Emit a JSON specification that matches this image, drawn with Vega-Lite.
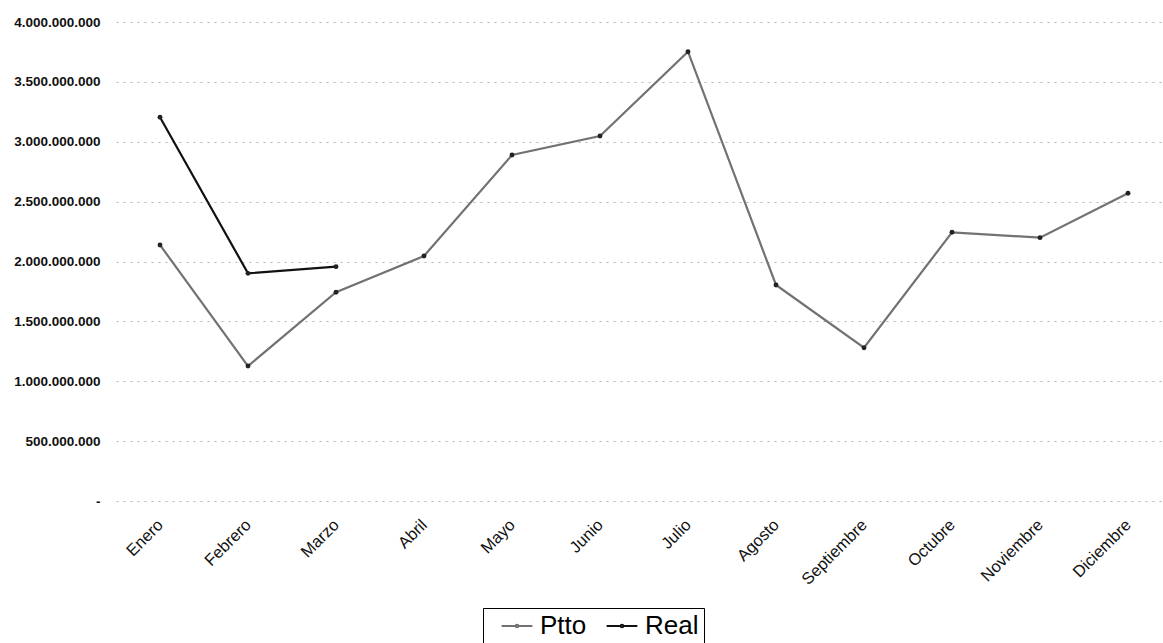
{
  "$schema": "https://vega.github.io/schema/vega-lite/v6.json",
  "width": 1056,
  "height": 479,
  "autosize": "none",
  "padding": {"left": 116, "top": 22, "right": 0, "bottom": 142},
  "background": "white",
  "config": {
    "view": {"stroke": null},
    "font": "Liberation Sans",
    "axis": {"labelFont": "Liberation Sans", "labelColor": "#111"}
  },
  "data": {
    "values": [
      {"mes": "Enero", "serie": "Ptto", "valor": 2138000000},
      {"mes": "Febrero", "serie": "Ptto", "valor": 1127000000},
      {"mes": "Marzo", "serie": "Ptto", "valor": 1743000000},
      {"mes": "Abril", "serie": "Ptto", "valor": 2046000000},
      {"mes": "Mayo", "serie": "Ptto", "valor": 2889000000},
      {"mes": "Junio", "serie": "Ptto", "valor": 3048000000},
      {"mes": "Julio", "serie": "Ptto", "valor": 3752000000},
      {"mes": "Agosto", "serie": "Ptto", "valor": 1804000000},
      {"mes": "Septiembre", "serie": "Ptto", "valor": 1280000000},
      {"mes": "Octubre", "serie": "Ptto", "valor": 2244000000},
      {"mes": "Noviembre", "serie": "Ptto", "valor": 2199000000},
      {"mes": "Diciembre", "serie": "Ptto", "valor": 2570000000},
      {"mes": "Enero", "serie": "Real", "valor": 3204000000},
      {"mes": "Febrero", "serie": "Real", "valor": 1901000000},
      {"mes": "Marzo", "serie": "Real", "valor": 1957000000}
    ]
  },
  "encoding": {
    "x": {
      "field": "mes",
      "type": "ordinal",
      "sort": ["Enero", "Febrero", "Marzo", "Abril", "Mayo", "Junio", "Julio", "Agosto", "Septiembre", "Octubre", "Noviembre", "Diciembre"],
      "scale": {"type": "point", "padding": 0.5},
      "axis": {
        "title": null,
        "labelAngle": -45,
        "labelAlign": "right",
        "labelBaseline": "middle",
        "labelFontSize": 16.5,
        "labelPadding": 21,
        "ticks": false,
        "domain": false,
        "grid": false
      }
    },
    "y": {
      "field": "valor",
      "type": "quantitative",
      "scale": {"domain": [0, 4000000000]},
      "axis": {
        "title": null,
        "values": [0, 500000000, 1000000000, 1500000000, 2000000000, 2500000000, 3000000000, 3500000000, 4000000000],
        "labelExpr": "datum.value == 0 ? '-' : replace(format(datum.value, ','), /,/g, '.')",
        "labelFontSize": 13.5,
        "labelFontWeight": "bold",
        "labelPadding": 16,
        "ticks": false,
        "domain": false,
        "grid": true,
        "gridColor": "#a0a0a0",
        "gridDash": [2, 5],
        "gridWidth": 0.8
      }
    }
  },
  "layer": [
    {
      "mark": {"type": "line", "strokeWidth": 2.2},
      "encoding": {
        "color": {
          "field": "serie",
          "type": "nominal",
          "scale": {"domain": ["Ptto", "Real"], "range": ["#727272", "#111111"]},
          "legend": {
            "title": null,
            "orient": "none",
            "legendX": 367,
            "legendY": 586,
            "direction": "horizontal",
            "labelFontSize": 26,
            "labelFont": "Liberation Sans",
            "labelColor": "#000",
            "labelOffset": 10,
            "symbolOffset": 16,
            "symbolType": "M-1.4,0H-0.12M0.12,0H1.4M-0.12,0A0.12,0.12,0,1,1,0.12,0A0.12,0.12,0,1,1,-0.12,0",
            "symbolStrokeWidth": 2,
            "symbolSize": 484,
            "strokeColor": "#000",
            "padding": 5,
            "columnPadding": 6,
            "encode": {
              "symbols": {
                "update": {
                  "stroke": {"scale": "color", "field": "value"},
                  "fill": {"value": "transparent"},
                  "strokeWidth": {"value": 2},
                  "opacity": {"value": 1}
                }
              }
            }
          }
        }
      }
    },
    {
      "mark": {"type": "point", "filled": true, "size": 24, "color": "#222", "opacity": 1},
      "encoding": {}
    }
  ]
}
